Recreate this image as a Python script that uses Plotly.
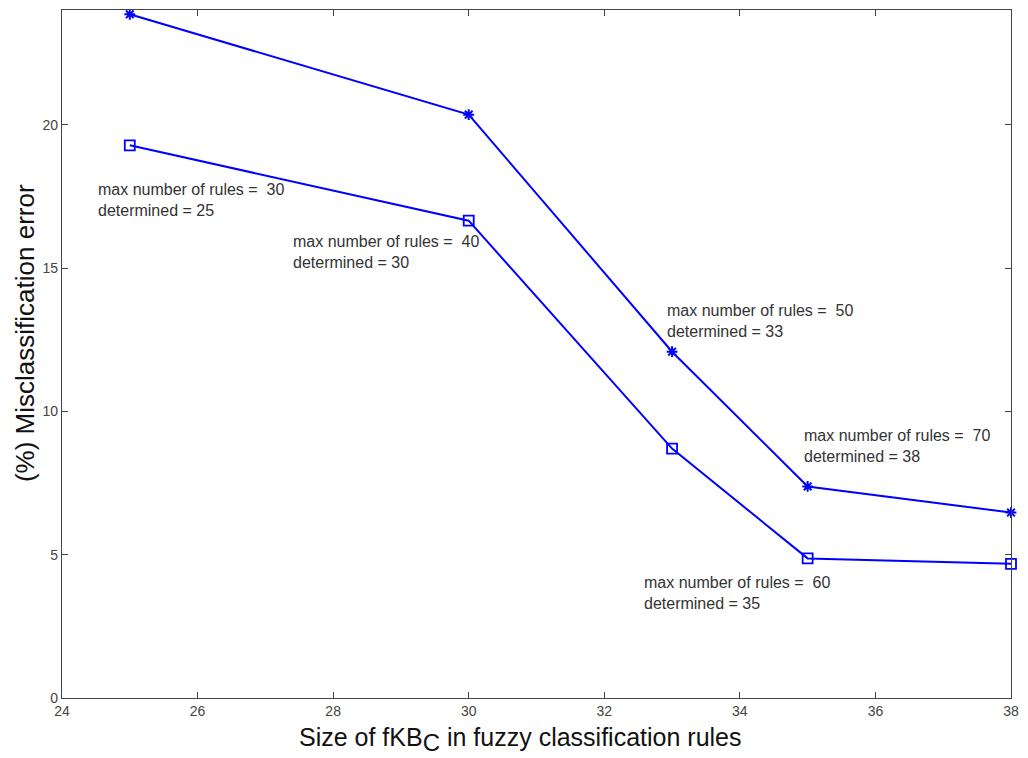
import plotly.graph_objects as go

x_vals = [25, 30, 33, 35, 38]
star_err = [23.85, 20.35, 12.08, 7.38, 6.47]
square_err = [19.28, 16.65, 8.70, 4.87, 4.68]

ann_x = [24.50, 27.38, 32.89, 34.91, 32.56]
ann_y = [17.36, 15.57, 13.16, 8.80, 3.66]
ann_max = [30, 40, 50, 70, 60]
ann_det = [25, 30, 33, 38, 35]

x_ticks = [24, 26, 28, 30, 32, 34, 36, 38]
y_ticks = [0, 5, 10, 15, 20]

FONT = "Liberation Sans, Arial"

fig = go.Figure()
fig.add_trace(go.Scatter(x=x_vals, y=star_err, mode="lines+markers",
                         line=dict(color="#0000ff", width=2),
                         marker=dict(symbol="asterisk-open", size=9,
                                     line=dict(color="#0000ff", width=2)),
                         showlegend=False, cliponaxis=False))
fig.add_trace(go.Scatter(x=x_vals, y=square_err, mode="lines+markers",
                         line=dict(color="#0000ff", width=2),
                         marker=dict(symbol="square-open", size=10,
                                     line=dict(color="#0000ff", width=1.8)),
                         showlegend=False, cliponaxis=False))

for ax_, ay_, m, d in zip(ann_x, ann_y, ann_max, ann_det):
    fig.add_annotation(x=ax_, y=ay_, xref="x", yref="y",
                       text=f"max number of rules =  {m}<br>determined = {d}",
                       showarrow=False, xanchor="left", yanchor="middle", align="left",
                       font=dict(family=FONT, size=16, color="#333333"))

# axis titles
fig.add_annotation(x=24 + (524 - 62) / 957 * 14, y=-0.033, xref="x", yref="paper",
                   text="Size of fKB<sub><span style='font-size:24px'>C</span></sub> in fuzzy classification rules",
                   showarrow=False, xanchor="center", yanchor="top",
                   font=dict(family=FONT, size=25, color="#111111"))
fig.add_annotation(x=0, y=(698 - 333) / 28.67, xref="paper", yref="y",
                   text="(%) Misclassification error", textangle=-90,
                   showarrow=False, xanchor="center", yanchor="middle", xshift=-37,
                   font=dict(family=FONT, size=26, color="#111111"))

axis_common = dict(showline=True, linecolor="#444444", linewidth=1.2, mirror="ticks",
                   ticks="inside", ticklen=6, tickcolor="#444444", showgrid=False,
                   zeroline=False,
                   tickfont=dict(family=FONT, size=14, color="#444444"))

fig.update_xaxes(range=[24, 38], tickvals=x_ticks, **axis_common)
fig.update_yaxes(range=[0, 24], tickvals=y_ticks, **axis_common)

fig.update_layout(width=1028, height=758, margin=dict(l=62, r=9, t=10, b=60),
                  plot_bgcolor="white", paper_bgcolor="white")

fig.write_html("out.html")
